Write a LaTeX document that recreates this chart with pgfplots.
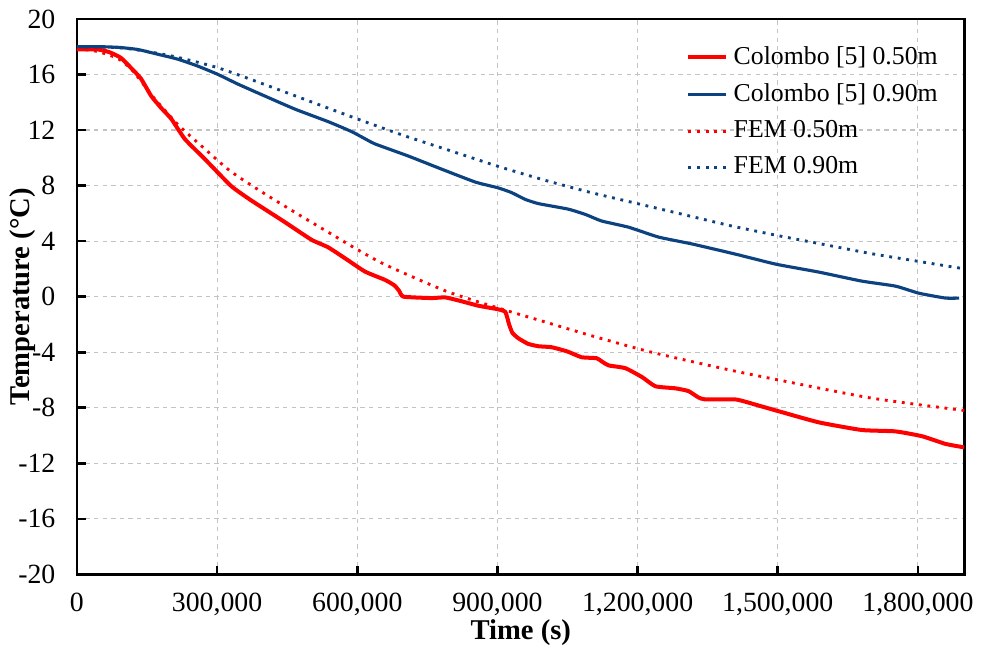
\documentclass[border=0pt]{standalone}
\usepackage{fontspec}
\setmainfont{Liberation Serif}
\usepackage{pgfplots}
\pgfplotsset{compat=1.18}
\definecolor{cred}{RGB}{255,0,0}
\definecolor{cblue}{RGB}{12,66,128}
\definecolor{gridc}{RGB}{195,195,195}
\begin{document}
\begin{tikzpicture}
\begin{axis}[
  scale only axis,
  width=310pt, height=194pt,
  xmin=0, xmax=1900000, ymin=-20, ymax=20,
  xtick={0,300000,600000,900000,1200000,1500000,1800000},
  xticklabels={0,{300,000},{600,000},{900,000},{1,200,000},{1,500,000},{1,800,000}},
  ytick={-20,-16,-12,-8,-4,0,4,8,12,16,20},
  yticklabels={-20,-16,-12,-8,-4,0,4,8,12,16,20},
  scaled x ticks=false,
  tick pos=left, tick align=inside,
  major tick length=3pt,
  tick style={black, line width=0.9pt},
  axis line style={line width=0.9pt},
  grid=major,
  major grid style={gridc, dash pattern=on 1.5pt off 1.5pt, line width=0.4pt},
  ticklabel style={font=\fontsize{9.7}{11}\selectfont},
  xticklabel style={yshift=-3pt},
  yticklabel style={xshift=-4pt},
  xlabel={\textbf{Time (s)}},
  ylabel={\textbf{Temperature (°C)}},
  label style={font=\fontsize{9}{11}\selectfont},
  every axis x label/.style={at={(rel axis cs:0.5,-0.1045)}, anchor=center},
  every axis y label/.style={at={(rel axis cs:-0.0613,0.5)}, rotate=90, anchor=center},
  legend style={at={(rel axis cs:0.686,0.962)}, anchor=north west, draw=none, fill=none,
    font=\fontsize{9}{11}\selectfont, row sep=1.2pt, inner sep=0pt},
  legend image code/.code={\draw[#1] (0cm,0cm) -- (0.46cm,0cm);},
  legend cell align=left,
]
\addplot[cred, line width=1.4pt, smooth, tension=0.3] coordinates {
(0,17.8)(45000,17.8)(70000,17.6)(94000,17.2)(115000,16.5)(137000,15.7)(159000,14.45)
(180000,13.6)(202000,12.8)(231000,11.35)(274000,9.9)(330000,7.97)(370000,7.0)(402000,6.3)
(445000,5.37)(502000,4.1)(538000,3.55)(581000,2.6)(617000,1.8)(660000,1.2)(680000,0.8)
(690000,0.4)(699000,0.0)(759000,-0.1)(788000,-0.05)(820000,-0.3)(859000,-0.65)(900000,-0.9)
(917000,-1.1)(925000,-2.0)(932000,-2.6)(945000,-3.0)(966000,-3.4)(988000,-3.57)(1016000,-3.64)
(1050000,-3.95)(1080000,-4.36)(1112000,-4.43)(1125000,-4.7)(1138000,-4.95)(1174000,-5.15)
(1210000,-5.8)(1238000,-6.45)(1281000,-6.6)(1309000,-6.8)(1330000,-7.25)(1345000,-7.4)
(1410000,-7.4)(1455000,-7.8)(1502000,-8.25)(1588000,-9.05)(1680000,-9.6)(1752000,-9.7)
(1809000,-10.05)(1859000,-10.6)(1899000,-10.85)
};
\addlegendentry{Colombo [5] 0.50m}
\addplot[cblue, line width=1.1pt, smooth, tension=0.3] coordinates {
(0,18.0)(50000,18.0)(90000,17.95)(130000,17.8)(174000,17.45)(216000,17.1)(259000,16.6)(302000,16.0)
(345000,15.3)(402000,14.45)(467000,13.5)(538000,12.6)(587000,11.9)(615000,11.4)(638000,11.0)
(709000,10.13)(780000,9.19)(853000,8.25)(900000,7.85)(930000,7.5)(960000,7.0)(988000,6.7)
(1052000,6.3)(1090000,5.9)(1123000,5.45)(1181000,5.0)(1245000,4.29)(1316000,3.8)(1410000,3.06)
(1496000,2.34)(1588000,1.77)(1680000,1.12)(1752000,0.76)(1802000,0.25)(1859000,-0.1)(1888000,-0.1)
};
\addlegendentry{Colombo [5] 0.90m}
\addplot[cred, line width=1pt, dash pattern=on 1pt off 2pt, smooth, tension=0.4] coordinates {
(0,17.8)(30000,17.75)(60000,17.5)(90000,17.1)(116000,16.4)(140000,15.4)(160000,14.5)
(216000,12.4)(275000,10.6)(330000,9.0)(400000,7.45)(480000,5.8)(540000,4.6)(600000,3.4)
(660000,2.3)(790000,0.4)(900000,-0.8)(1000000,-1.8)(1100000,-2.8)(1230000,-4.0)(1400000,-5.3)
(1517000,-6.1)(1700000,-7.3)(1900000,-8.2)
};
\addlegendentry{FEM 0.50m}
\addplot[cblue, line width=1pt, dash pattern=on 1pt off 2pt, smooth, tension=0.4] coordinates {
(0,18.0)(100000,17.9)(200000,17.35)(300000,16.5)(400000,15.3)(500000,14.05)(600000,12.8)
(700000,11.6)(800000,10.5)(900000,9.4)(1000000,8.4)(1100000,7.5)(1200000,6.7)(1300000,5.9)
(1400000,5.1)(1500000,4.4)(1600000,3.75)(1700000,3.1)(1800000,2.55)(1900000,2.0)
};
\addlegendentry{FEM 0.90m}
\path (rel axis cs:-0.08896,-0.1351) rectangle (rel axis cs:1.018,1.036);
\end{axis}
\end{tikzpicture}
\end{document}
